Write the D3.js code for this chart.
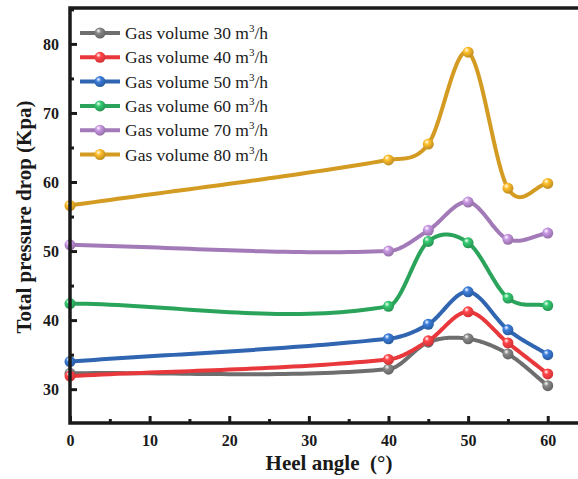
<!DOCTYPE html>
<html>
<head>
<meta charset="utf-8">
<script src="https://cdn.jsdelivr.net/npm/d3@7"></script>
<style>
body { margin: 0; background: #fff; }
text { font-family: "Liberation Serif", "Times New Roman", serif; }
</style>
</head>
<body>
<svg id="fig"></svg>
<script>
const angles = [0, 40, 45, 50, 55, 60];
const seriesNames = ['30', '40', '50', '60', '70', '80'];
const gas30 = [32.3, 32.9, 36.8, 37.3, 35.1, 30.5];
const gas40 = [31.9, 34.3, 37.0, 41.2, 36.7, 32.2];
const gas50 = [34.0, 37.3, 39.4, 44.1, 38.6, 35.0];
const gas60 = [42.4, 42.0, 51.4, 51.2, 43.2, 42.1];
const gas70 = [50.9, 50.0, 53.0, 57.1, 51.7, 52.6];
const gas80 = [56.6, 63.2, 65.5, 78.8, 59.1, 59.8];
const colors = ['#6e6e6e', '#e8383b', '#2f65b1', '#2aa45b', '#a27ab8', '#d49b23'];
const xTicks = [0, 10, 20, 30, 40, 50, 60];
const yTicks = [30, 40, 50, 60, 70, 80];

const allSeries = [gas30, gas40, gas50, gas60, gas70, gas80];

const width = 578, height = 479;
const margin = { top: 8, right: 0, bottom: 56, left: 70 };
const innerWidth = width - margin.left - margin.right;
const innerHeight = height - margin.top - margin.bottom;

const xScale = d3.scaleLinear().domain([0, 63.8]).range([0, innerWidth]);
const yScale = d3.scaleLinear().domain([25.1, 85.2]).range([innerHeight, 0]);

// cubic hermite through the points, tangents from neighbouring differences
function smooth(xs, ys, steps) {
    const n = xs.length;
    const m = xs.map((x, i) => {
        if (i === 0) return (ys[1] - ys[0]) / (xs[1] - xs[0]);
        if (i === n - 1) return (ys[n - 1] - ys[n - 2]) / (xs[n - 1] - xs[n - 2]);
        return (ys[i + 1] - ys[i - 1]) / (xs[i + 1] - xs[i - 1]);
    });
    const pts = [];
    for (let j = 0; j < n - 1; j++) {
        const h = xs[j + 1] - xs[j];
        for (let s = 0; s < steps; s++) {
            const t = s / steps, t2 = t * t, t3 = t2 * t;
            const y = (2 * t3 - 3 * t2 + 1) * ys[j] + (t3 - 2 * t2 + t) * h * m[j]
                + (-2 * t3 + 3 * t2) * ys[j + 1] + (t3 - t2) * h * m[j + 1];
            pts.push([xs[j] + t * h, y]);
        }
    }
    pts.push([xs[n - 1], ys[n - 1]]);
    return pts;
}

const svg = d3.select('#fig').attr('width', width).attr('height', height);
const defs = svg.append('defs');
colors.forEach((col, i) => {
    const grad = defs.append('radialGradient')
        .attr('id', 'ball' + i)
        .attr('cx', '40%').attr('cy', '35%').attr('r', '65%')
        .attr('fx', '35%').attr('fy', '30%');
    grad.append('stop').attr('offset', '0%').attr('stop-color', '#ffffff');
    grad.append('stop').attr('offset', '35%').attr('stop-color', d3.color(col).brighter(0.6));
    grad.append('stop').attr('offset', '100%').attr('stop-color', d3.color(col).darker(0.3));
});

const g = svg.append('g').attr('transform', `translate(${margin.left},${margin.top})`);

const line = d3.line().x(d => xScale(d[0])).y(d => yScale(d[1]));

allSeries.forEach((vals, i) => {
    g.append('path')
        .attr('d', line(smooth(angles, vals, 40)))
        .attr('fill', 'none')
        .attr('stroke', colors[i])
        .attr('stroke-width', 4)
        .attr('stroke-linejoin', 'round');
});
allSeries.forEach((vals, i) => {
    g.selectAll(null).data(vals).enter().append('circle')
        .attr('cx', (v, k) => xScale(angles[k]))
        .attr('cy', v => yScale(v))
        .attr('r', 5.5)
        .attr('fill', `url(#ball${i})`);
});

// axes: major ticks inward, minor ticks halfway
const xAxis = g.append('g').attr('transform', `translate(0,${innerHeight})`)
    .call(d3.axisBottom(xScale).tickValues(xTicks).tickSize(-7).tickPadding(12));
xAxis.append('g').call(d3.axisBottom(xScale).tickValues(d3.range(5, 60, 10)).tickSize(-4).tickFormat(''));
const yAxis = g.append('g')
    .call(d3.axisLeft(yScale).tickValues(yTicks).tickSize(-7).tickPadding(11));
yAxis.append('g').call(d3.axisLeft(yScale).tickValues(d3.range(35, 90, 10)).tickSize(-4).tickFormat(''));

[xAxis, yAxis].forEach(ax => {
    ax.selectAll('.domain').remove();
    ax.selectAll('text').filter(function() { return this.textContent === ''; }).remove();
    ax.selectAll('line').attr('stroke', '#1a1a1a').attr('stroke-width', 3);
    ax.selectAll('text').attr('font-size', 16).attr('font-weight', 'bold')
        .attr('fill', '#1a1a1a').attr('font-family', '"Liberation Serif", serif');
});

// frame
g.append('path')
    .attr('d', `M${innerWidth},0H0V${innerHeight}H${innerWidth}`)
    .attr('fill', 'none').attr('stroke', '#1a1a1a').attr('stroke-width', 3.5);

// axis titles
svg.append('text')
    .attr('x', 329).attr('y', 470)
    .attr('text-anchor', 'middle').attr('font-size', 21).attr('font-weight', 'bold')
    .attr('fill', '#1a1a1a')
    .text('Heel angle\u00a0\u00a0(°)');
svg.append('text')
    .attr('transform', `translate(31,217) rotate(-90)`)
    .attr('text-anchor', 'middle').attr('font-size', 21).attr('font-weight', 'bold')
    .attr('fill', '#1a1a1a')
    .text('Total pressure drop (Kpa)');

// legend
const legend = svg.append('g').attr('transform', 'translate(80,33)');
seriesNames.forEach((name, i) => {
    const row = legend.append('g').attr('transform', `translate(0,${i * 24.3})`);
    row.append('line').attr('x1', 0).attr('x2', 40).attr('y1', 0).attr('y2', 0)
        .attr('stroke', colors[i]).attr('stroke-width', 4);
    row.append('circle').attr('cx', 20).attr('cy', 0).attr('r', 5.5)
        .attr('fill', `url(#ball${i})`);
    const t = row.append('text').attr('x', 45).attr('y', 6)
        .attr('font-size', 17.5).attr('fill', '#1a1a1a');
    t.append('tspan').text(`Gas volume ${name} m`);
    t.append('tspan').attr('font-size', 11).attr('dy', -7).text('3');
    t.append('tspan').attr('dy', 7).text('/h');
});
</script>
</body>
</html>
